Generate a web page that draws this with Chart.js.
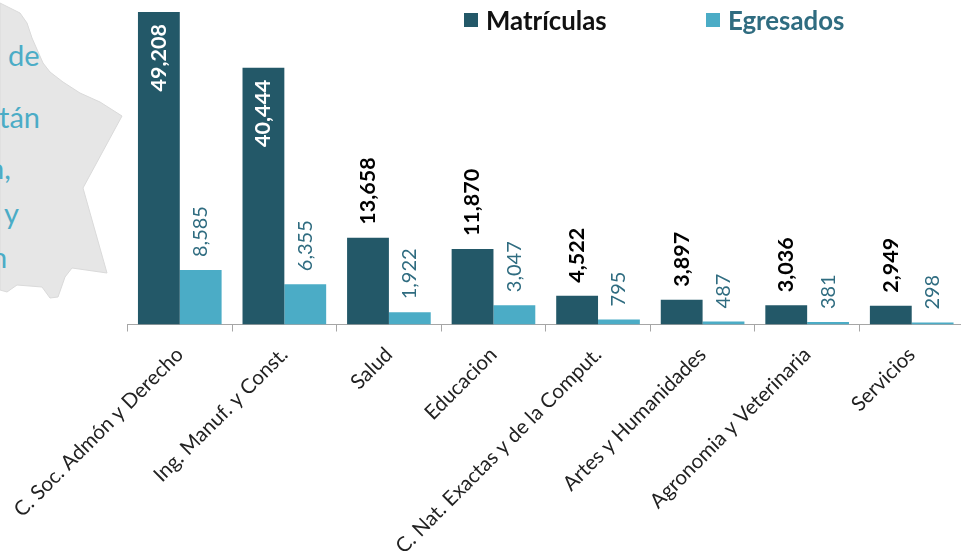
<!DOCTYPE html>
<html>
<head>
<meta charset="utf-8">
<script src="https://cdn.jsdelivr.net/npm/chart.js@4"></script>
<style>
html, body { margin: 0; padding: 0; width: 961px; height: 557px; overflow: hidden; background: #fff; }
#map { position: absolute; left: 0; top: 0; }
#chartBox { position: absolute; left: 0; top: 0; width: 964px; height: 557px; }
.side { position: absolute; color: #4bacc6; font: 29px Lato, sans-serif; line-height: 1; }
.legend { position: absolute; top: 6px; font: bold 25.8px Lato, sans-serif; line-height: 28px; white-space: nowrap; }
.legend i { position: absolute; left: -22px; top: 7px; width: 14px; height: 14px; }
</style>
</head>
<body>
<svg id="map" width="130" height="300">
  <path d="M0,3 L20,13 L27,23 L32,38 L43,63 L50,72 L63,82 L80,93 L100,102 L122,116 L83,188 L107,273 L100,272 L72,268 L65,277 L58,297 L50,298 L42,287 L17,285 L7,292 L0,290 Z"
        fill="#e6e6e6" stroke="#dadada"/>
</svg>
<div class="side" style="left:8px;top:40px">de</div>
<div class="side" style="left:-1px;top:102px">tán</div>
<div class="side" style="left:-12px;top:153px">n,</div>
<div class="side" style="left:4px;top:198px">y</div>
<div class="side" style="left:-9px;top:242px">n</div>
<div id="chartBox"><canvas id="chart" width="964" height="557"></canvas></div>
<div class="legend" style="left:486px;color:#111"><i style="background:#235868"></i><span id="legA"></span></div>
<div class="legend" style="left:728px;color:#2f6c80"><i style="background:#4bacc6"></i><span id="legB"></span></div>
<script>
var categories = ['C. Soc. Admón y Derecho', 'Ing. Manuf. y Const.', 'Salud', 'Educacion',
    'C. Nat. Exactas y de la Comput.', 'Artes y Humanidades', 'Agronomia y Veterinaria', 'Servicios'];
var matriculas = [49208, 40444, 13658, 11870, 4522, 3897, 3036, 2949];
var egresados = [8585, 6355, 1922, 3047, 795, 487, 381, 298];

document.getElementById('legA').textContent = 'Matrículas';
document.getElementById('legB').textContent = 'Egresados';

function fmt(v) {
    return v.toLocaleString('en-US');
}

// value labels turned 90 degrees, big bars get them inside in white
var barLabels = {
    id: 'barLabels',
    afterDatasetsDraw: function(chart) {
        var ctx = chart.ctx;
        chart.data.datasets.forEach(function(ds, i) {
            chart.getDatasetMeta(i).data.forEach(function(bar, j) {
                var v = ds.data[j];
                var inside = i == 0 && v > 30000;
                ctx.save();
                ctx.translate(bar.x, bar.y + (inside ? 12 : -13));
                ctx.rotate(-Math.PI / 2);
                ctx.textBaseline = 'middle';
                ctx.textAlign = inside ? 'right' : 'left';
                ctx.font = (i == 0 ? 'bold 21.5px' : '20px') + ' Lato, sans-serif';
                ctx.fillStyle = inside ? '#ffffff' : (i == 0 ? '#000000' : '#2f6c80');
                ctx.fillText(fmt(v), 0, 0);
                ctx.restore();
            });
        });
    }
};

var myBarChart = new Chart(document.getElementById('chart'), {
    type: 'bar',
    data: {
        labels: categories,
        datasets: [
            { label: 'Matrículas', data: matriculas, backgroundColor: '#235868' },
            { label: 'Egresados', data: egresados, backgroundColor: '#4bacc6' }
        ]
    },
    options: {
        responsive: false,
        animation: false,
        layout: { padding: { left: 127.5, top: 0, right: 0, bottom: 0 } },
        plugins: { legend: { display: false }, tooltip: { enabled: false } },
        datasets: { bar: { categoryPercentage: 0.8, barPercentage: 1 } },
        scales: {
            y: { display: false, min: 0, max: 51100 },
            x: {
                afterFit: function(scale) {
                    scale.height = 232.5;
                    scale.paddingLeft = 0;
                    scale.paddingRight = 0;
                },
                border: { color: '#a6a6a6', width: 1 },
                grid: { drawOnChartArea: false, color: '#a6a6a6', tickLength: 7 },
                ticks: {
                    autoSkip: false,
                    minRotation: 45,
                    maxRotation: 45,
                    padding: 11,
                    color: '#222222',
                    font: { family: 'Lato, sans-serif', size: 20.5 }
                }
            }
        }
    },
    plugins: [barLabels]
});
</script>
</body>
</html>
